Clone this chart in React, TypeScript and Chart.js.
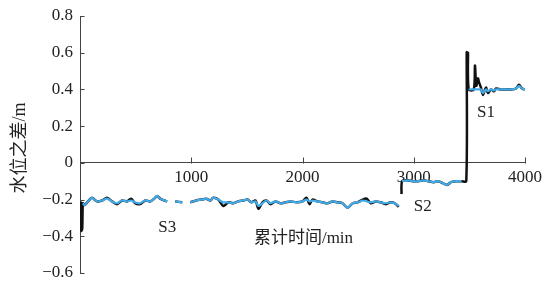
import React, { useEffect, useRef } from 'react';
import { Chart, registerables } from 'chart.js';
Chart.register(...registerables);

// time (min)
const TIME = [
  8, 12, 20, 26, 40, 72, 108, 153, 198, 243, 288, 333, 378, 423, 459, 495, 540, 586, 631, 667, 694, 721, 757, 784,
  820, 856, 919, 955,
  991, 1045, 1090, 1135, 1171, 1198, 1243, 1288, 1333, 1378, 1423, 1468, 1505, 1541, 1577, 1604, 1640, 1676,
  1712, 1757, 1802, 1847, 1892, 1946, 2000, 2036, 2063, 2090, 2135, 2180, 2225, 2270, 2315, 2360, 2405, 2451,
  2496, 2541, 2577, 2613, 2658, 2703, 2748, 2793, 2829, 2865, 2878,
  2890, 2895, 2940, 2990, 3040, 3090, 3130, 3180, 3220, 3260, 3300, 3335, 3380, 3430, 3472,
  3476, 3482, 3488, 3494, 3540, 3550, 3562, 3577, 3586, 3604, 3622, 3649, 3667, 3694, 3721, 3739, 3784, 3874,
  3919, 3946, 3973, 4000,
];

// measured water-level difference (m), black
const BLACK = [
  -0.21, -0.37, -0.36, -0.22, -0.23, -0.21, -0.19, -0.21, -0.205, -0.19, -0.21, -0.225, -0.205, -0.21, -0.195, -0.22, -0.225, -0.205, -0.21, -0.195, -0.18, -0.195, -0.205, -0.21,
  null, -0.21, -0.215, null,
  -0.215, -0.205, -0.2, -0.195, -0.205, -0.19, -0.2, -0.235, -0.215, -0.22, -0.21, -0.205, -0.2, -0.215, -0.205, -0.25, -0.215, -0.205,
  -0.225, -0.21, -0.22, -0.215, -0.21, -0.215, -0.21, -0.19, -0.225, -0.2, -0.21, -0.215, -0.22, -0.21, -0.215, -0.22, -0.245, -0.22,
  -0.215, -0.2, -0.195, -0.22, -0.21, -0.215, -0.225, -0.215, -0.22, -0.24, null,
  -0.17, -0.1, -0.095, -0.1, -0.1, -0.095, -0.1, -0.105, -0.1, -0.11, -0.12, -0.105, -0.1, -0.1, -0.1,
  0.6, 0.41, 0.6, 0.4, 0.4, 0.53, 0.42, 0.46, 0.44, 0.41, 0.37, 0.41, 0.38, 0.4, 0.39, 0.405, 0.4, 0.4,
  0.405, 0.425, 0.405, 0.4,
];

// simulated water-level difference (m), blue
const BLUE = [
  -0.2, null, null, -0.22, -0.23, -0.21, -0.19, -0.21, -0.205, -0.195, -0.21, -0.22, -0.205, -0.21, -0.205, -0.215, -0.22, -0.205, -0.21, -0.195, -0.18, -0.195, -0.205, -0.21,
  null, -0.21, -0.215, null,
  -0.215, -0.205, -0.2, -0.195, -0.205, -0.19, -0.2, -0.215, -0.215, -0.22, -0.21, -0.205, -0.2, -0.215, -0.21, -0.235, -0.22, -0.205,
  -0.22, -0.21, -0.22, -0.215, -0.21, -0.215, -0.21, -0.2, -0.21, -0.205, -0.21, -0.215, -0.22, -0.21, -0.215, -0.22, -0.245, -0.22,
  -0.215, -0.205, -0.21, -0.215, -0.21, -0.215, -0.22, -0.215, -0.22, -0.235, null,
  null, -0.1, -0.095, -0.1, -0.1, -0.095, -0.1, -0.105, -0.1, -0.11, -0.12, -0.105, -0.1, -0.1, null,
  null, null, null, 0.4, 0.4, 0.4, 0.4, 0.4, 0.4, 0.4, 0.38, 0.4, 0.39, 0.4, 0.395, 0.4, 0.4, 0.4,
  0.405, 0.42, 0.405, 0.4,
];

const Y_TICKS = [-0.6, -0.4, -0.2, 0, 0.2, 0.4, 0.6, 0.8];
const X_TICKS = [1000, 2000, 3000, 4000];

const SEG_LABELS = ['S1', 'S2', 'S3'];
const SEG_X = [3649, 3081, 784];
const SEG_Y = [0.272, -0.24, -0.35];

const X_TITLE = '累计时间/min';
const Y_TITLE = '水位之差/m';

const FONT = "'Liberation Serif', 'Noto Sans CJK SC', serif";

export default function App() {
  const ref = useRef<HTMLCanvasElement | null>(null);

  useEffect(() => {
    if (!ref.current) return;
    const black = TIME.map((t, i) => ({ x: t, y: BLACK[i] }));
    const blue = TIME.map((t, i) => ({ x: t, y: BLUE[i] }));

    const decor = {
      id: 'decor',
      afterDraw(chart: any) {
        const { ctx, scales } = chart;
        const xs = scales.x;
        const ys = scales.y;
        ctx.save();
        ctx.strokeStyle = '#444';
        ctx.lineWidth = 1;
        const ax = Math.round(xs.left) + 0.5;
        Y_TICKS.forEach((v) => {
          const py = Math.round(ys.getPixelForValue(v)) + 0.5;
          ctx.beginPath();
          ctx.moveTo(ax, py);
          ctx.lineTo(ax + 4, py);
          ctx.stroke();
        });
        const y0 = Math.round(ys.getPixelForValue(0)) + 0.5;
        X_TICKS.forEach((v) => {
          const px = Math.round(xs.getPixelForValue(v)) + 0.5;
          ctx.beginPath();
          ctx.moveTo(px, y0);
          ctx.lineTo(px, y0 - 6);
          ctx.stroke();
        });
        ctx.fillStyle = '#222';
        ctx.font = `17px ${FONT}`;
        ctx.textAlign = 'center';
        ctx.textBaseline = 'middle';
        SEG_LABELS.forEach((s, i) => {
          ctx.fillText(s, xs.getPixelForValue(SEG_X[i]), ys.getPixelForValue(SEG_Y[i]));
        });
        ctx.fillText(X_TITLE, xs.getPixelForValue(2009), ys.getPixelForValue(-0.41));
        ctx.translate(20, 148);
        ctx.rotate(-Math.PI / 2);
        ctx.font = `18px ${FONT}`;
        ctx.fillText(Y_TITLE, 0, 0);
        ctx.restore();
      },
    };

    const chart = new Chart(ref.current, {
      type: 'line',
      data: {
        datasets: [
          {
            label: 'blue',
            data: blue,
            borderColor: '#41aae8',
            borderWidth: 2.2,
            pointRadius: 0,
            tension: 0.3,
            spanGaps: false,
          },
          {
            label: 'black',
            data: black,
            borderColor: '#111',
            borderWidth: 2.5,
            pointRadius: 0,
            tension: 0.3,
            spanGaps: false,
          },
        ],
      },
      options: {
        animation: false,
        responsive: false,
        devicePixelRatio: 1,
        layout: { padding: { top: 16, bottom: 10, left: 0, right: 33 } },
        plugins: { legend: { display: false }, tooltip: { enabled: false } },
        scales: {
          x: {
            type: 'linear',
            position: { y: 0 } as any,
            min: 0,
            max: 4000,
            grid: { display: false, drawTicks: false },
            border: { display: true, color: '#444', width: 1 },
            ticks: {
              stepSize: 1000,
              maxRotation: 0,
              padding: 4,
              color: '#222',
              font: { family: FONT, size: 17 },
              callback: (v: any) => (Number(v) === 0 ? '' : String(v)),
            },
          },
          y: {
            type: 'linear',
            position: 'left',
            min: -0.6,
            max: 0.8,
            grid: { display: false, drawTicks: false },
            border: { display: true, color: '#444', width: 1 },
            ticks: {
              stepSize: 0.2,
              padding: 7,
              color: '#222',
              font: { family: FONT, size: 17 },
              callback: (v: any) => {
                const n = Number(v);
                if (Math.abs(n) < 1e-9) return '0';
                return (n < 0 ? '−' : '') + Math.abs(n).toFixed(1);
              },
            },
            afterFit: (s: any) => {
              s.width = 80;
              s.paddingTop = 0;
              s.paddingBottom = 0;
            },
          },
        },
      },
      plugins: [decor],
    });
    return () => chart.destroy();
  }, []);

  return (
    <div style={{ position: 'absolute', left: 0, top: 0, width: 558, height: 283, background: '#fff' }}>
      <canvas ref={ref} width={558} height={283} />
    </div>
  );
}
